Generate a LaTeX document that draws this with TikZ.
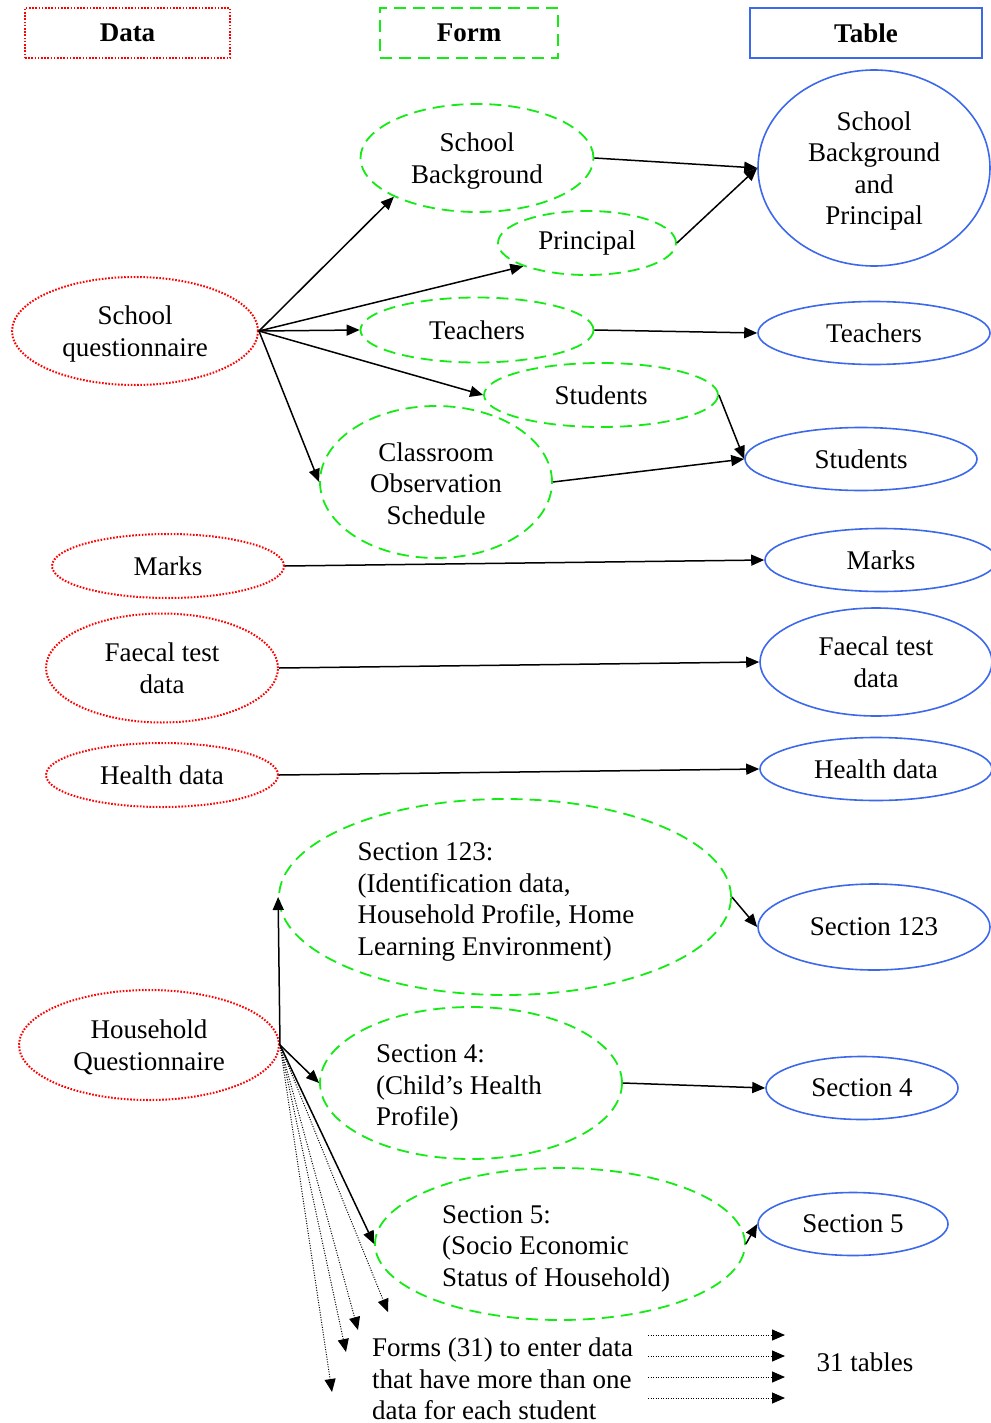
\documentclass[tikz,border=0pt]{standalone}
\usepackage{fontspec}
\setmainfont{Liberation Serif}
\usetikzlibrary{shapes.geometric,arrows.meta}
\definecolor{cred}{RGB}{255,0,0}
\definecolor{cgreen}{RGB}{20,235,20}
\definecolor{cblue}{RGB}{60,105,235}
\newcommand\ctab[3][-3pt]{\raisebox{#1}[\height][\depth]{\begin{tabular}{#2}#3\end{tabular}}}
\begin{document}
\begin{tikzpicture}[x=1pt,y=-1pt,
  font=\fontsize{27}{31.5}\selectfont,
  dataell/.style={ellipse,draw=cred,line width=2pt,dash pattern=on 1.6pt off 1.6pt,inner sep=0pt,align=center},
  formell/.style={ellipse,draw=cgreen,line width=1.8pt,dash pattern=on 12pt off 7pt,inner sep=0pt,align=center},
  tabell/.style={ellipse,draw=cblue,line width=1.6pt,inner sep=0pt,align=center},
  hdr/.style={rectangle,inner sep=0pt,font=\fontsize{27}{30}\selectfont\bfseries},
  arr/.style={-{Triangle[length=13pt,width=11pt]},line width=1.5pt,black},
  darr/.style={-{Triangle[length=13pt,width=11pt]},line width=1pt,black,dash pattern=on 1pt off 1.5pt},
  sz/.style 2 args={minimum width=#1,minimum height=#2}]
\useasboundingbox (0,0) rectangle (990,1423);

% headers
\node[hdr,draw=cred,line width=2pt,dash pattern=on 1.6pt off 1.6pt,sz={205}{50}] (hdata) at (127.5,33) {Data};
\node[hdr,draw=cgreen,line width=2pt,dash pattern=on 12pt off 7pt,sz={178}{50}] (hform) at (469,33) {Form};
\node[hdr,draw=cblue,line width=1.6pt,sz={232}{50}] (htab) at (866,33) {Table};

% data ellipses
\node[dataell,sz={246}{108}] (sq) at (135,331) {\ctab{@{}c@{}}{School\\questionnaire}};
\node[dataell,sz={232}{64}] (dmarks) at (168,566) {Marks};
\node[dataell,sz={232}{109}] (dfaecal) at (162,668) {\ctab{@{}c@{}}{Faecal test\\data}};
\node[dataell,sz={232}{64}] (dhealth) at (162,775) {Health data};
\node[dataell,sz={260}{110}] (hq) at (149,1045) {\ctab{@{}c@{}}{Household\\Questionnaire}};

% form ellipses
\node[formell,sz={233}{108}] (fsb) at (477,158) {\ctab{@{}c@{}}{School\\Background}};
\node[formell,sz={178}{64}] (fpr) at (587,243) {Principal};
\node[formell,sz={233}{65}] (fte) at (477,330) {Teachers};
\node[formell,sz={234}{64}] (fst) at (601,395) {Students};
\node[formell,sz={232}{152}] (fcl) at (436,482) {\ctab[-4.5pt]{@{}c@{}}{Classroom\\Observation\\Schedule}};
\node[formell,sz={452}{196}] (fs123) at (505,897) {\ctab[-4.5pt]{@{}l@{\hspace{18pt}}}{Section 123:\\(Identification data,\\Household Profile, Home\\Learning Environment)}};
\node[formell,sz={302}{152}] (fs4) at (471,1083) {\ctab[-5pt]{@{}l@{\hspace{24pt}}}{Section 4:\\(Child’s Health\\Profile)}};
\node[formell,sz={370}{152}] (fs5) at (560,1244) {\ctab[-4.5pt]{@{}l@{\hspace{8pt}}}{Section 5:\\(Socio Economic\\Status of Household)}};

% table ellipses
\node[tabell,sz={232}{196}] (tsbp) at (874,168) {\ctab{@{}c@{}}{School\\Background\\and\\Principal}};
\node[tabell,sz={232}{63}] (tte) at (874,333) {Teachers};
\node[tabell,sz={232}{63}] (tst) at (861,459) {Students};
\node[tabell,sz={232}{63}] (tmarks) at (881,560) {Marks};
\node[tabell,sz={232}{108}] (tfaecal) at (876,662) {\ctab{@{}c@{}}{Faecal test\\data}};
\node[tabell,sz={232}{63}] (thealth) at (876,769) {Health data};
\node[tabell,sz={232}{86}] (ts123) at (874,927) {Section 123};
\node[tabell,sz={192}{63}] (ts4) at (862,1088) {Section 4};
\node[tabell,sz={190}{63}] (ts5) at (853,1224) {Section 5};

% bottom texts
\node[anchor=west,align=left,inner sep=0pt] (forms) at (372,1379) {Forms (31) to enter data\\that have more than one\\data for each student};
\node[inner sep=0pt] (t31) at (865,1362) {31 tables};

% arrows from school questionnaire
\draw[arr] (sq.east) -- (fsb.205);
\draw[arr] (sq.east) -- (fpr.200);
\draw[arr] (sq.east) -- (fte.west);
\draw[arr] (sq.east) -- (fst.west);
\draw[arr] (sq.east) -- (fcl.west);

% form to table
\draw[arr] (fsb.east) -- (tsbp.west);
\draw[arr] (fpr.east) -- (tsbp.west);
\draw[arr] (fte.east) -- (tte.west);
\draw[arr] (fst.east) -- (tst.west);
\draw[arr] (fcl.east) -- (tst.west);

% data to table
\draw[arr] (dmarks.east) -- (tmarks.west);
\draw[arr] (dfaecal.east) -- (tfaecal.west);
\draw[arr] (dhealth.east) -- (thealth.west);

% household
\draw[arr] (hq.east) -- (fs123.west);
\draw[arr] (hq.east) -- (fs4.west);
\draw[arr] (hq.east) -- (fs5.west);
\draw[arr] (fs123.east) -- (ts123.west);
\draw[arr] (fs4.east) -- (ts4.west);
\draw[arr] (fs5.east) -- (ts5.west);

% dotted arrows
\coordinate (d1) at (388,1312);
\coordinate (d2) at (358,1330);
\coordinate (d3) at (346,1352);
\coordinate (d4) at (332,1392);
\foreach \d in {d1,d2,d3,d4} \draw[darr] (hq.east) -- (\d);

\foreach \i/\yy in {1/1335,2/1356,3/1377,4/1398}{
  \coordinate (hs\i) at (648,\yy);
  \coordinate (he\i) at (785,\yy);
  \draw[darr] (hs\i) -- (he\i);
}
\end{tikzpicture}
\end{document}
